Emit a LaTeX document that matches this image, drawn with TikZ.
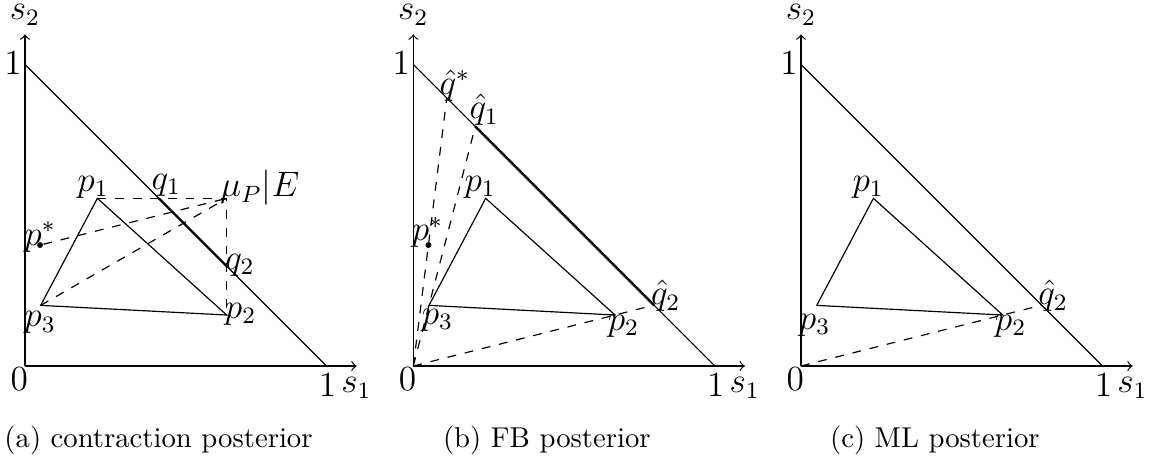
\documentclass[11pt,tikz,border=0pt]{standalone}
\usepackage{fix-cm}
\usepackage{tikz}
\usetikzlibrary{positioning}
\tikzset{
  % stili per assi, simplesso e proiezioni
  axis/.style={->},
  simplex/.style={},
  proj/.style={dashed},
  support/.style={thick},
  lbl/.style={font=\large, inner sep=0pt, anchor=center},
  capt/.style={font=\fontsize{9.75}{12}\selectfont, inner sep=0pt, anchor=center},
  dot/.style={circle, fill=black, inner sep=0pt, minimum size=2pt}
}

\begin{document}
\begin{tikzpicture}[x=3.6cm, y=3.6cm]
\useasboundingbox (-0.0829,-0.3151) rectangle (3.7546,1.2139);

% Pannello (a) - contraction posterior
\begin{scope}
\coordinate (a0) at (0,0);
\coordinate (ae1) at (1,0);
\coordinate (ae2) at (0,1);
\coordinate (ax) at (1.1,0);
\coordinate (ay) at (0,1.1);
\coordinate (ap1) at (0.24,0.556);
\coordinate (ap2) at (0.669,0.169);
\coordinate (ap3) at (0.052,0.201);
\coordinate (amu) at (0.669,0.556);
\coordinate (aq1) at (0.444,0.556);
\coordinate (aq2) at (0.669,0.331);
\node[dot] (aps) at (0.05,0.401) {};

\draw[axis] (a0) -- (ax);
\draw[axis] (a0) -- (ay);
\draw[simplex] (ae2) -- (ae1);
\draw (ap1) -- (ap2) -- (ap3) -- cycle;
\draw[proj] (ap1) -- (amu) -- (ap2);
\draw[proj] (aps) -- (amu);
\draw[proj] (ap3) -- (amu);
\draw[support] (aq1) -- (aq2);

\node[lbl] (as2) at (0,1.164) {$s_2$};
\node[lbl] (aone2) at (-0.040,1.003) {$1$};
\node[lbl] (azero) at (-0.019,-0.043) {$0$};
\node[lbl] (aone1) at (1.003,-0.063) {$1$};
\node[lbl] (as1) at (1.0995,-0.073) {$s_1$};
\node[lbl] (ap1l) at (0.226,0.594) {$p_1$};
\node[lbl] (ap2l) at (0.715,0.172) {$p_2$};
\node[lbl] (ap3l) at (0.050,0.144) {$p_3$};
\node[lbl] (apsl) at (0.050,0.429) {$p^*$};
\node[lbl] (aq1l) at (0.469,0.600) {$q_1$};
\node[lbl] (aq2l) at (0.713,0.335) {$q_2$};
\node[lbl] (amul) at (0.779,0.590) {$\mu_P|E$};
\node[capt] (acapt) at (0.443,-0.245) {(a) contraction posterior};
\end{scope}

% Pannello (b) - FB posterior
\begin{scope}[shift={(1.288,0)}]
\coordinate (b0) at (0,0);
\coordinate (be1) at (1,0);
\coordinate (be2) at (0,1);
\coordinate (bx) at (1.1,0);
\coordinate (by) at (0,1.1);
\coordinate (bp1) at (0.24,0.556);
\coordinate (bp2) at (0.669,0.169);
\coordinate (bp3) at (0.052,0.201);
\coordinate (bqs) at (0.111,0.889);
\coordinate (bq1) at (0.2055,0.7945);
\coordinate (bq2) at (0.7983,0.2017);
\node[dot] (bps) at (0.05,0.401) {};

\draw[axis] (b0) -- (bx);
\draw[axis] (b0) -- (by);
\draw[simplex] (be2) -- (be1);
\draw (bp1) -- (bp2) -- (bp3) -- cycle;
\draw[proj] (b0) -- (bqs);
\draw[proj] (b0) -- (bq1);
\draw[proj] (b0) -- (bq2);
\draw[support] (bq1) -- (bq2);

\node[lbl] (bs2) at (0,1.164) {$s_2$};
\node[lbl] (bone2) at (-0.040,1.003) {$1$};
\node[lbl] (bzero) at (-0.019,-0.043) {$0$};
\node[lbl] (bone1) at (1.003,-0.063) {$1$};
\node[lbl] (bs1) at (1.0995,-0.073) {$s_1$};
\node[lbl] (bp1l) at (0.222,0.594) {$p_1$};
\node[lbl] (bp2l) at (0.697,0.131) {$p_2$};
\node[lbl] (bp3l) at (0.080,0.153) {$p_3$};
\node[lbl] (bpsl) at (0.047,0.443) {$p^*$};
\node[lbl] (bqsl) at (0.138,0.929) {$\hat{q}^*$};
\node[lbl] (bq1l) at (0.235,0.849) {$\hat{q}_1$};
\node[lbl] (bq2l) at (0.837,0.232) {$\hat{q}_2$};
\node[capt] (bcapt) at (0.443,-0.245) {(b) FB posterior};
\end{scope}

% Pannello (c) - ML posterior
\begin{scope}[shift={(2.574,0)}]
\coordinate (c0) at (0,0);
\coordinate (ce1) at (1,0);
\coordinate (ce2) at (0,1);
\coordinate (cx) at (1.1,0);
\coordinate (cy) at (0,1.1);
\coordinate (cp1) at (0.24,0.556);
\coordinate (cp2) at (0.669,0.169);
\coordinate (cp3) at (0.052,0.201);
\coordinate (cq2) at (0.7983,0.2017);

\draw[axis] (c0) -- (cx);
\draw[axis] (c0) -- (cy);
\draw[simplex] (ce2) -- (ce1);
\draw (cp1) -- (cp2) -- (cp3) -- cycle;
\draw[proj] (c0) -- (cq2);

\node[lbl] (cs2) at (0,1.164) {$s_2$};
\node[lbl] (cone2) at (-0.040,1.003) {$1$};
\node[lbl] (czero) at (-0.019,-0.043) {$0$};
\node[lbl] (cone1) at (1.003,-0.063) {$1$};
\node[lbl] (cs1) at (1.0995,-0.073) {$s_1$};
\node[lbl] (cp1l) at (0.223,0.594) {$p_1$};
\node[lbl] (cp2l) at (0.695,0.131) {$p_2$};
\node[lbl] (cp3l) at (0.045,0.136) {$p_3$};
\node[lbl] (cq2l) at (0.836,0.232) {$\hat{q}_2$};
\node[capt] (ccapt) at (0.444,-0.245) {(c) ML posterior};
\end{scope}

\end{tikzpicture}
\end{document}
